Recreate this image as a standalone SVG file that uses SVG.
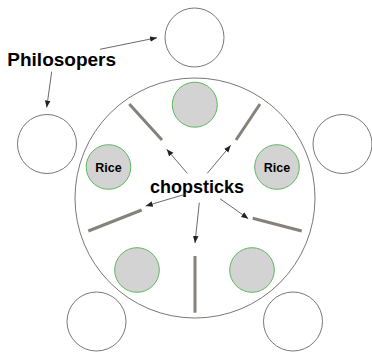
<svg xmlns="http://www.w3.org/2000/svg" width="372" height="352" viewBox="0 0 372 352">
<defs>
<marker id="ah" viewBox="0 0 10 10" refX="10" refY="5" markerWidth="7" markerHeight="7" markerUnits="userSpaceOnUse" orient="auto">
<path d="M0,1 L10,5 L0,9 z" fill="#222"/>
</marker>
<style>
.phil{fill:#fff;stroke:#555;stroke-width:0.8}
.table{fill:#fff;stroke:#555;stroke-width:0.8}
.plate{fill:#d3d3d3;stroke:#5cb85c;stroke-width:1}
.stick{stroke:#86827a;stroke-width:3}
.arr{stroke:#444;stroke-width:0.8;fill:none;marker-end:url(#ah)}
.lbl{font-family:"Liberation Sans",Arial,sans-serif;font-weight:bold;fill:#000}
</style>
</defs>
<rect width="372" height="352" fill="#fff"/>
<g id="table"><circle class="table" cx="195" cy="198" r="120"/></g>
<g id="phil-top"><circle class="phil" cx="194.5" cy="37.5" r="29.5"/></g>
<g id="phil-left"><circle class="phil" cx="47" cy="144" r="29.5"/></g>
<g id="phil-right"><circle class="phil" cx="342.5" cy="144" r="29.5"/></g>
<g id="phil-bl"><circle class="phil" cx="96.5" cy="321.5" r="29.5"/></g>
<g id="phil-br"><circle class="phil" cx="293" cy="321.5" r="29.5"/></g>
<g id="plate-top"><circle class="plate" cx="194.8" cy="104.7" r="22.5"/></g>
<g id="plate-left"><circle class="plate" cx="108.5" cy="167" r="22.3"/><text class="lbl" x="108.5" y="171.5" font-size="12.5" text-anchor="middle">Rice</text></g>
<g id="plate-right"><circle class="plate" cx="277" cy="167" r="22.3"/><text class="lbl" x="277" y="171.5" font-size="12.5" text-anchor="middle">Rice</text></g>
<g id="plate-bl"><circle class="plate" cx="137" cy="270" r="22.3"/></g>
<g id="plate-br"><circle class="plate" cx="252" cy="270" r="22.3"/></g>
<g id="chopsticks">
<line class="stick" x1="129.3" y1="104" x2="162" y2="140"/>
<line class="stick" x1="260" y1="104" x2="236" y2="140"/>
<line class="stick" x1="88.3" y1="231" x2="141.7" y2="210"/>
<line class="stick" x1="252.7" y1="218.3" x2="301.7" y2="231"/>
<line class="stick" x1="195" y1="256" x2="195" y2="312.7"/>
</g>
<g id="label-philosopers"><text class="lbl" x="7.3" y="66" font-size="19">Philosopers</text></g>
<g id="label-chopsticks"><text class="lbl" x="150" y="193.3" font-size="18">chopsticks</text></g>
<g id="connectors">
<line class="arr" x1="100" y1="49.3" x2="157" y2="37.7"/>
<line class="arr" x1="51.7" y1="71.7" x2="46.7" y2="107.5"/>
<line class="arr" x1="187.3" y1="173.3" x2="166.7" y2="149.3"/>
<line class="arr" x1="207.3" y1="173.3" x2="230.7" y2="145.3"/>
<line class="arr" x1="185" y1="194.3" x2="145.7" y2="206"/>
<line class="arr" x1="199.3" y1="202.7" x2="195" y2="243"/>
<line class="arr" x1="220" y1="198.7" x2="248.3" y2="218.7"/>
</g>
</svg>
